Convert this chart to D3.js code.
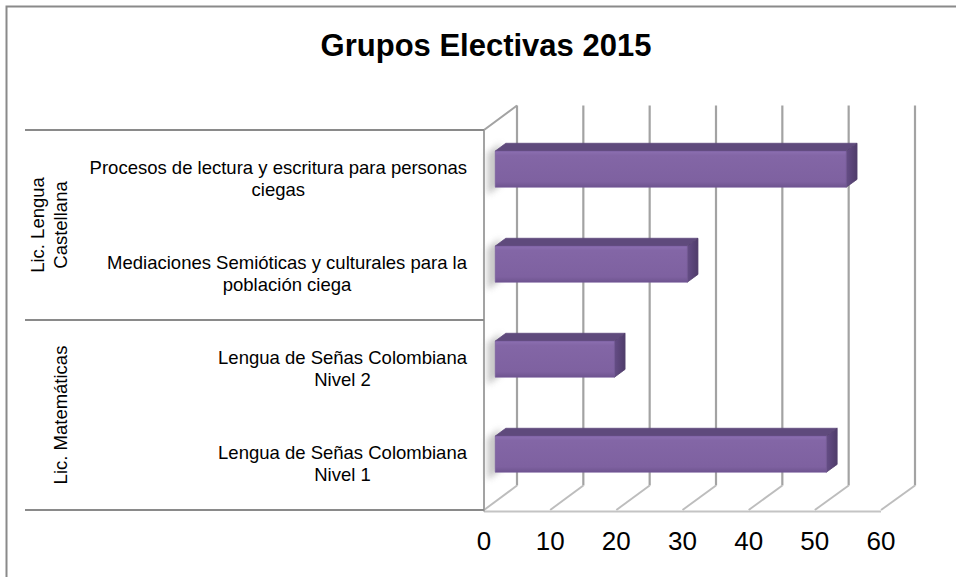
<!DOCTYPE html>
<html>
<head>
<meta charset="utf-8">
<script src="https://cdn.jsdelivr.net/npm/d3@7"></script>
<style>
  html, body { margin: 0; padding: 0; background: #fff; }
  svg { display: block; font-family: "Liberation Sans", Arial, sans-serif; }
</style>
</head>
<body>
<svg id="chart" width="956" height="577"></svg>
<script>
// ---- data ----
const title = "Grupos Electivas 2015";
const categories = [
  "Procesos de lectura y escritura para personas\nciegas",
  "Mediaciones Semióticas y culturales para la\npoblación ciega",
  "Lengua de Señas Colombiana\nNivel 2",
  "Lengua de Señas Colombiana\nNivel 1"
];
const values = [53, 29, 18, 50];
const groups = ["Lic. Lengua\nCastellana", "Lic. Matemáticas"];
const groupOf = [0, 0, 1, 1];
const tickValues = [0, 10, 20, 30, 40, 50, 60];

// ---- layout ----
const svg = d3.select("#chart");
const W = 956, H = 577;
const DY = -24.5;                       // vertical shift of the depth axis
const xF = d3.scaleLinear().domain([0, 60]).range([484, 881]); // front plane
const xB = d3.scaleLinear().domain([0, 60]).range([517, 915]); // back plane
const y = d3.scaleBand().domain(categories).range([130, 510]);
const proj = (v, yy, d) => [xF(v) + d * (xB(v) - xF(v)), yy + d * DY];
const line = d3.line();

// outer border
svg.append("rect").attr("x", 6.5).attr("y", 6.5).attr("width", W + 10).attr("height", H + 10)
  .attr("fill", "#fff").attr("stroke", "#8a8a8a").attr("stroke-width", 2);

// title
svg.append("text").attr("x", 486).attr("y", 56).attr("text-anchor", "middle")
  .attr("font-size", 31).attr("font-weight", "bold").attr("fill", "#000").text(title);

const defs = svg.append("defs");
const gradF = defs.append("linearGradient").attr("id", "gFront").attr("x1", 0).attr("y1", 0).attr("x2", 0).attr("y2", 1);
gradF.append("stop").attr("offset", "0%").attr("stop-color", "#8c6fb1");
gradF.append("stop").attr("offset", "12%").attr("stop-color", "#8366a6");
gradF.append("stop").attr("offset", "85%").attr("stop-color", "#7e61a0");
gradF.append("stop").attr("offset", "100%").attr("stop-color", "#6e548f");
const gradS = defs.append("linearGradient").attr("id", "gSide").attr("x1", 0).attr("y1", 0).attr("x2", 1).attr("y2", 0);
gradS.append("stop").attr("offset", "0%").attr("stop-color", "#654d86");
gradS.append("stop").attr("offset", "100%").attr("stop-color", "#4f3c6a");
defs.append("filter").attr("id", "blur").attr("x", "-50%").attr("y", "-50%").attr("width", "200%").attr("height", "200%")
  .append("feGaussianBlur").attr("stdDeviation", 3);
defs.append("filter").attr("id", "soft")
  .append("feGaussianBlur").attr("stdDeviation", 0.5);

const y0 = y.range()[0], y1 = y.range()[1];

// back wall gridlines
const grid = svg.append("g").attr("filter", "url(#soft)");
grid.selectAll("line.gv").data(tickValues).join("line").attr("class", "gv")
  .attr("x1", d => proj(d, y0, 1)[0]).attr("y1", proj(0, y0, 1)[1])
  .attr("x2", d => proj(d, y1, 1)[0]).attr("y2", proj(0, y1, 1)[1])
  .attr("stroke", "#a3a3a3").attr("stroke-width", 2.2);
// floor diagonals
grid.selectAll("path.fl").data(tickValues).join("path").attr("class", "fl")
  .attr("d", d => line([proj(d, y1, 0), proj(d, y1, 1)]))
  .attr("fill", "none").attr("stroke", "#bdbdbd").attr("stroke-width", 2);
// floor front edge
grid.append("path").attr("d", line([proj(0, y1 + 1.5, 0), proj(60, y1 + 1.5, 0)]))
  .attr("fill", "none").attr("stroke", "#c4c4c4").attr("stroke-width", 2);
// side wall edges
grid.append("path").attr("d", line([proj(0, y1 + 1.5, 0), proj(0, y0, 0), proj(0, y0, 1)]))
  .attr("fill", "none").attr("stroke", "#a3a3a3").attr("stroke-width", 2);

// bars
const d0 = 0.34, d1 = 0.66;
const bh = y.bandwidth() * 0.38;
const bars = svg.append("g");
categories.forEach((c, i) => {
  const v = values[i];
  const cy = y(c) + y.bandwidth() / 2;
  const yt = cy - bh / 2, yb = cy + bh / 2;
  const A = proj(0, yt, d0), B = proj(v, yt, d0), C = proj(v, yb, d0), D = proj(0, yb, d0);
  const Bb = proj(v, yt, d1), Cb = proj(v, yb, d1), Ab = proj(0, yt, d1);
  // shadow on side wall
  bars.append("path").attr("d", line([proj(0, yt - 4, 0.1), proj(0, yt - 4, 0.5), proj(0, yb + 2, 0.5), proj(0, yb + 2, 0.1)]) + "Z")
    .attr("fill", "#b0b0b0").attr("opacity", 0.7).attr("filter", "url(#blur)");
  bars.append("path").attr("d", line([A, B, Bb, Ab]) + "Z").attr("fill", "#5f4a7c")
    .attr("stroke", "#5f4a7c").attr("stroke-width", 0.8).attr("stroke-linejoin", "round");
  bars.append("path").attr("d", line([B, Bb, Cb, C]) + "Z").attr("fill", "url(#gSide)")
    .attr("stroke", "#56426f").attr("stroke-width", 0.8).attr("stroke-linejoin", "round");
  bars.append("path").attr("d", line([A, B, C, D]) + "Z").attr("fill", "url(#gFront)")
    .attr("stroke", "#75599a").attr("stroke-width", 0.6).attr("stroke-linejoin", "round");
});

// separators for category axis
const sepYs = [y0, y(categories[2]), y1];
svg.selectAll("line.sep").data(sepYs).join("line").attr("class", "sep")
  .attr("x1", 25).attr("x2", xF(0)).attr("y1", d => d).attr("y2", d => d)
  .attr("stroke", "#8a8a8a").attr("stroke-width", 2);

// category labels
const FS = 18.5, LH = 22, RIGHT = 467;
categories.forEach((c, i) => {
  const lines = c.split("\n");
  const cy = y(c) + y.bandwidth() / 2;
  const g = svg.append("g");
  const texts = lines.map((t, k) => g.append("text").attr("text-anchor", "middle")
    .attr("font-size", FS).attr("fill", "#000").attr("y", cy - 3.5 + k * LH).text(t));
  const maxW = d3.max(texts, t => t.node().getComputedTextLength());
  texts.forEach(t => t.attr("x", RIGHT - maxW / 2));
});

// group labels (rotated)
groups.forEach((gname, gi) => {
  const idx = categories.filter((c, i) => groupOf[i] === gi);
  const top = y(idx[0]), bot = y(idx[idx.length - 1]) + y.bandwidth();
  const cy = (top + bot) / 2;
  const lines = gname.split("\n");
  const g = svg.append("g").attr("transform", `translate(0,${cy}) rotate(-90)`);
  lines.forEach((t, k) => g.append("text").attr("text-anchor", "middle").attr("x", 0)
    .attr("y", 66.5 - (lines.length - 1 - k) * 23).attr("font-size", FS).attr("fill", "#000").text(t));
});

// value tick labels
svg.selectAll("text.tick").data(tickValues).join("text").attr("class", "tick")
  .attr("x", d => xF(d)).attr("y", 550).attr("text-anchor", "middle")
  .attr("font-size", 26).attr("fill", "#000").text(d => d);
</script>
</body>
</html>
